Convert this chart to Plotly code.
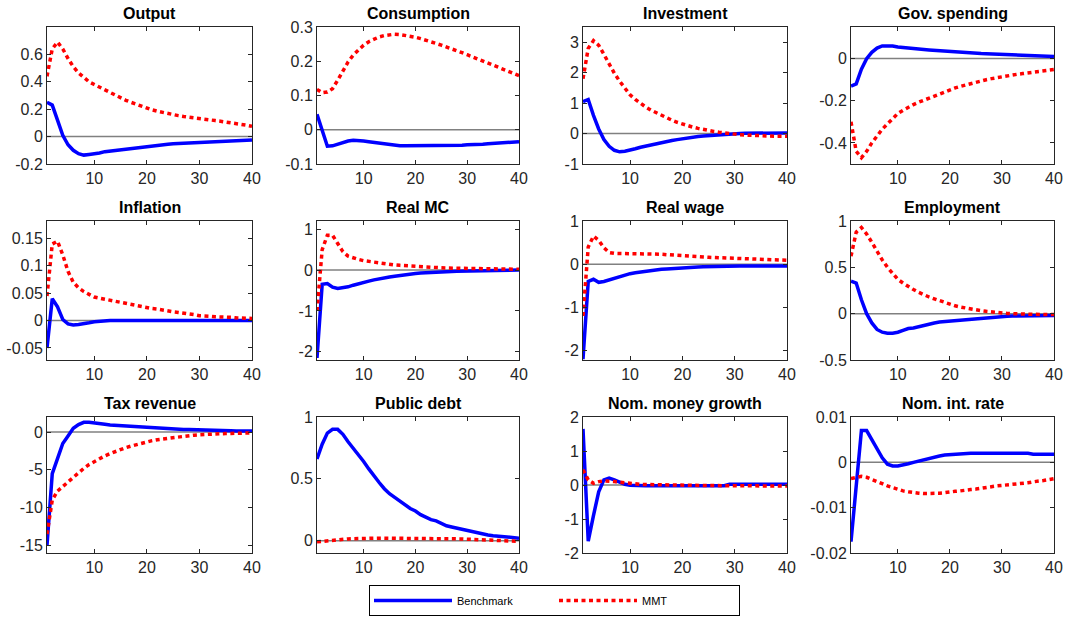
import plotly.graph_objects as go
from plotly.subplots import make_subplots

periods = list(range(1, 41))
x_ticks = [10, 20, 30, 40]
x_tick_labels = ["10", "20", "30", "40"]

titles = ["Output", "Consumption", "Investment", "Gov. spending",
          "Inflation", "Real MC", "Real wage", "Employment",
          "Tax revenue", "Public debt", "Nom. money growth", "Nom. int. rate"]

output_bench = [0.25, 0.23, 0.12, 0.01, -0.06, -0.10, -0.125, -0.135, -0.13, -0.128,
                -0.12, -0.11, -0.105, -0.10, -0.095, -0.09, -0.085, -0.08, -0.075, -0.07,
                -0.066, -0.062, -0.058, -0.055, -0.052, -0.05, -0.048, -0.046, -0.044, -0.042,
                -0.04, -0.038, -0.037, -0.036, -0.034, -0.032, -0.03, -0.028, -0.027, -0.025]
output_mmt = [0.44, 0.64, 0.69, 0.64, 0.57, 0.51, 0.465, 0.43, 0.40, 0.38,
              0.36, 0.34, 0.32, 0.30, 0.28, 0.265, 0.25, 0.235, 0.22, 0.205,
              0.195, 0.185, 0.176, 0.168, 0.16, 0.153, 0.147, 0.141, 0.136, 0.132,
              0.127, 0.122, 0.117, 0.112, 0.107, 0.102, 0.097, 0.09, 0.083, 0.075]

cons_bench = [0.045, 0.0, -0.048, -0.047, -0.042, -0.037, -0.033, -0.031, -0.031, -0.033,
              -0.035, -0.037, -0.039, -0.042, -0.044, -0.046, -0.047, -0.047, -0.047, -0.047,
              -0.047, -0.047, -0.047, -0.047, -0.047, -0.047, -0.047, -0.046, -0.045, -0.044,
              -0.044, -0.043, -0.042, -0.041, -0.04, -0.039, -0.038, -0.037, -0.036, -0.035]
cons_mmt = [0.118, 0.108, 0.11, 0.12, 0.145, 0.172, 0.198, 0.218, 0.234, 0.247,
            0.257, 0.265, 0.271, 0.275, 0.278, 0.279, 0.278, 0.276, 0.273, 0.27,
            0.266, 0.262, 0.257, 0.252, 0.247, 0.242, 0.236, 0.231, 0.225, 0.219,
            0.213, 0.207, 0.201, 0.195, 0.189, 0.183, 0.177, 0.171, 0.165, 0.158]

inv_bench = [1.05, 1.12, 0.6, 0.15, -0.2, -0.42, -0.55, -0.6, -0.58, -0.55,
             -0.5, -0.45, -0.41, -0.37, -0.33, -0.29, -0.26, -0.23, -0.2, -0.17,
             -0.15, -0.12, -0.1, -0.08, -0.065, -0.05, -0.04, -0.03, -0.02, -0.01,
             0.0, 0.01, 0.01, 0.015, 0.015, 0.02, 0.02, 0.02, 0.02, 0.02]
inv_mmt = [1.8, 2.8, 3.05, 2.9, 2.6, 2.28, 1.98, 1.72, 1.48, 1.27,
           1.12, 0.98, 0.87, 0.77, 0.68, 0.59, 0.51, 0.44, 0.37, 0.31,
           0.26, 0.21, 0.17, 0.13, 0.1, 0.07, 0.045, 0.02, 0.0, -0.02,
           -0.04, -0.05, -0.06, -0.07, -0.08, -0.085, -0.09, -0.09, -0.09, -0.09]

gov_bench = [-0.13, -0.12, -0.05, 0.0, 0.03, 0.05, 0.06, 0.06, 0.06, 0.055,
             0.052, 0.05, 0.047, 0.045, 0.043, 0.041, 0.039, 0.037, 0.035, 0.033,
             0.031, 0.03, 0.028, 0.027, 0.025, 0.024, 0.023, 0.022, 0.02, 0.018,
             0.017, 0.016, 0.015, 0.015, 0.014, 0.014, 0.013, 0.012, 0.011, 0.01]
gov_mmt = [-0.3, -0.44, -0.47, -0.44, -0.4, -0.365, -0.335, -0.31, -0.285, -0.26,
           -0.245, -0.23, -0.218, -0.207, -0.197, -0.187, -0.177, -0.167, -0.157, -0.147,
           -0.139, -0.132, -0.125, -0.118, -0.112, -0.106, -0.1, -0.095, -0.09, -0.086,
           -0.082, -0.078, -0.074, -0.071, -0.067, -0.064, -0.061, -0.058, -0.055, -0.052]

infl_bench = [-0.05, 0.04, 0.025, 0.002, -0.006, -0.008, -0.007, -0.006, -0.004, -0.002,
              -0.001, 0.0, 0.0, 0.0, 0.0, 0.0, 0.0, 0.0, 0.0, 0.0,
              0.0, 0.0, 0.0, 0.0, 0.0, 0.0, 0.0, 0.0, 0.0, 0.0,
              0.0, 0.0, 0.0, 0.0, 0.0, 0.0, 0.0, 0.0, 0.0, 0.0]
infl_mmt = [0.045, 0.14, 0.145, 0.12, 0.09, 0.07, 0.06, 0.053, 0.048, 0.043,
            0.041, 0.039, 0.037, 0.035, 0.033, 0.031, 0.029, 0.027, 0.025, 0.024,
            0.022, 0.021, 0.019, 0.018, 0.016, 0.015, 0.014, 0.012, 0.011, 0.009,
            0.009, 0.008, 0.007, 0.007, 0.006, 0.006, 0.005, 0.005, 0.004, 0.004]

mc_bench = [-2.15, -0.35, -0.33, -0.42, -0.45, -0.44, -0.41, -0.37, -0.33, -0.3,
            -0.27, -0.24, -0.21, -0.19, -0.17, -0.15, -0.13, -0.115, -0.1, -0.085,
            -0.075, -0.065, -0.055, -0.05, -0.045, -0.04, -0.035, -0.03, -0.027, -0.024,
            -0.02, -0.018, -0.015, -0.012, -0.01, -0.008, -0.006, -0.004, -0.002, 0.0]
mc_mmt = [-1.0, 0.5, 0.85, 0.85, 0.65, 0.45, 0.34, 0.29, 0.26, 0.23,
          0.21, 0.19, 0.17, 0.155, 0.14, 0.125, 0.115, 0.105, 0.095, 0.085,
          0.078, 0.072, 0.066, 0.06, 0.055, 0.05, 0.046, 0.042, 0.04, 0.038,
          0.035, 0.033, 0.031, 0.03, 0.028, 0.026, 0.025, 0.023, 0.022, 0.02]

wage_bench = [-2.2, -0.4, -0.35, -0.42, -0.4, -0.36, -0.32, -0.28, -0.25, -0.22,
              -0.2, -0.18, -0.16, -0.145, -0.13, -0.12, -0.11, -0.1, -0.09, -0.085,
              -0.075, -0.07, -0.065, -0.06, -0.055, -0.05, -0.048, -0.045, -0.043, -0.042,
              -0.041, -0.04, -0.04, -0.04, -0.04, -0.04, -0.04, -0.04, -0.04, -0.04]
wage_mmt = [-1.2, 0.4, 0.65, 0.55, 0.38, 0.27, 0.25, 0.25, 0.25, 0.25,
            0.25, 0.25, 0.245, 0.24, 0.235, 0.23, 0.22, 0.21, 0.2, 0.19,
            0.18, 0.175, 0.17, 0.165, 0.16, 0.155, 0.15, 0.145, 0.14, 0.13,
            0.12, 0.115, 0.11, 0.105, 0.1, 0.1, 0.095, 0.095, 0.09, 0.09]

emp_bench = [0.35, 0.33, 0.15, 0.0, -0.1, -0.17, -0.2, -0.21, -0.21, -0.2,
             -0.18, -0.16, -0.155, -0.14, -0.13, -0.115, -0.1, -0.09, -0.085, -0.08,
             -0.075, -0.07, -0.065, -0.06, -0.05, -0.045, -0.04, -0.037, -0.034, -0.03,
             -0.028, -0.026, -0.025, -0.024, -0.023, -0.022, -0.021, -0.02, -0.02, -0.02]
emp_mmt = [0.62, 0.88, 0.93, 0.86, 0.77, 0.67, 0.58, 0.5, 0.43, 0.37,
           0.33, 0.29, 0.26, 0.23, 0.2, 0.18, 0.16, 0.14, 0.12, 0.1,
           0.085, 0.072, 0.06, 0.05, 0.04, 0.032, 0.025, 0.018, 0.012, 0.007,
           0.003, 0.0, -0.003, -0.005, -0.007, -0.008, -0.009, -0.01, -0.01, -0.01]

tax_bench = [-15.0, -5.5, -3.5, -1.5, -0.5, 0.5, 1.0, 1.3, 1.3, 1.25,
             1.15, 1.05, 0.95, 0.9, 0.85, 0.8, 0.75, 0.7, 0.65, 0.6,
             0.55, 0.5, 0.45, 0.42, 0.4, 0.38, 0.36, 0.33, 0.3, 0.25,
             0.2, 0.2, 0.2, 0.18, 0.18, 0.17, 0.16, 0.15, 0.15, 0.15]
tax_mmt = [-13.5, -9.0, -7.8, -7.2, -6.5, -5.9, -5.3, -4.8, -4.3, -3.9,
           -3.5, -3.15, -2.85, -2.55, -2.3, -2.05, -1.85, -1.65, -1.45, -1.28,
           -1.13, -1.0, -0.9, -0.8, -0.7, -0.6, -0.52, -0.46, -0.4, -0.35,
           -0.3, -0.27, -0.24, -0.21, -0.19, -0.17, -0.15, -0.13, -0.12, -0.1]

debt_bench = [0.66, 0.78, 0.87, 0.9, 0.9, 0.86, 0.8, 0.75, 0.7, 0.64,
              0.58, 0.52, 0.47, 0.42, 0.38, 0.35, 0.32, 0.29, 0.26, 0.24,
              0.21, 0.19, 0.17, 0.16, 0.14, 0.12, 0.11, 0.1, 0.09, 0.08,
              0.07, 0.06, 0.05, 0.045, 0.04, 0.035, 0.03, 0.03, 0.025, 0.02]
debt_mmt = [-0.01, -0.005, 0.0, 0.005, 0.01, 0.012, 0.014, 0.016, 0.018, 0.02,
            0.02, 0.02, 0.02, 0.02, 0.02, 0.02, 0.02, 0.02, 0.02, 0.02,
            0.02, 0.02, 0.02, 0.02, 0.02, 0.02, 0.018, 0.016, 0.014, 0.012,
            0.01, 0.008, 0.006, 0.004, 0.002, 0.0, -0.002, -0.004, -0.005, -0.006]

money_bench = [1.65, -1.65, -0.9, -0.2, 0.15, 0.2, 0.15, 0.08, 0.02, -0.01,
               -0.02, -0.02, -0.02, -0.02, -0.02, -0.02, -0.02, -0.02, -0.02, -0.02,
               -0.02, -0.02, -0.02, -0.02, -0.02, -0.02, -0.02, -0.02, 0.02, 0.02,
               0.02, 0.02, 0.02, 0.02, 0.02, 0.02, 0.02, 0.02, 0.02, 0.02]
money_mmt = [0.45, 0.15, 0.05, 0.1, 0.12, 0.12, 0.1, 0.08, 0.06, 0.04,
             0.03, 0.02, 0.015, 0.01, 0.008, 0.005, 0.003, 0.0, 0.0, 0.0,
             -0.005, -0.01, -0.01, -0.015, -0.015, -0.02, -0.02, -0.02, -0.02, -0.02,
             -0.02, -0.025, -0.025, -0.025, -0.025, -0.03, -0.03, -0.03, -0.03, -0.03]

rate_bench = [-0.0175, -0.005, 0.007, 0.007, 0.005, 0.003, 0.001, -0.0004, -0.0008, -0.0008,
              -0.0006, -0.0003, 0.0, 0.0003, 0.0006, 0.0009, 0.0012, 0.0014, 0.0016, 0.0017,
              0.0018, 0.0019, 0.002, 0.002, 0.002, 0.002, 0.002, 0.002, 0.002, 0.002,
              0.002, 0.002, 0.002, 0.002, 0.002, 0.0018, 0.0018, 0.0018, 0.0018, 0.0018]
rate_mmt = [-0.0036, -0.0033, -0.0031, -0.0033, -0.0037, -0.0042, -0.0047, -0.0052, -0.0056, -0.006,
            -0.0063, -0.0065, -0.0067, -0.0068, -0.0069, -0.0069, -0.0069, -0.0068, -0.0067, -0.0065,
            -0.0064, -0.0063, -0.0061, -0.006, -0.0059, -0.0057, -0.0056, -0.0054, -0.0052, -0.0051,
            -0.005, -0.0048, -0.0047, -0.0046, -0.0045, -0.0043, -0.0042, -0.004, -0.0038, -0.0036]

bench_series = [output_bench, cons_bench, inv_bench, gov_bench,
                infl_bench, mc_bench, wage_bench, emp_bench,
                tax_bench, debt_bench, money_bench, rate_bench]
mmt_series = [output_mmt, cons_mmt, inv_mmt, gov_mmt,
              infl_mmt, mc_mmt, wage_mmt, emp_mmt,
              tax_mmt, debt_mmt, money_mmt, rate_mmt]

y_ranges = [[-0.2, 0.8], [-0.1, 0.3], [-1, 3.5], [-0.5, 0.15],
            [-0.072, 0.182], [-2.2, 1.2], [-2.22, 1.0], [-0.5, 1.0],
            [-16, 2], [-0.1, 1.0], [-2, 2], [-0.02, 0.01]]
y_ticks = [[-0.2, 0, 0.2, 0.4, 0.6], [-0.1, 0, 0.1, 0.2, 0.3], [-1, 0, 1, 2, 3], [-0.4, -0.2, 0],
           [-0.05, 0, 0.05, 0.1, 0.15], [-2, -1, 0, 1], [-2, -1, 0, 1], [-0.5, 0, 0.5, 1],
           [-15, -10, -5, 0], [0, 0.5, 1], [-2, -1, 0, 1, 2], [-0.02, -0.01, 0, 0.01]]
y_tick_labels = [["-0.2", "0", "0.2", "0.4", "0.6"], ["-0.1", "0", "0.1", "0.2", "0.3"],
                 ["-1", "0", "1", "2", "3"], ["-0.4", "-0.2", "0"],
                 ["-0.05", "0", "0.05", "0.1", "0.15"], ["-2", "-1", "0", "1"],
                 ["-2", "-1", "0", "1"], ["-0.5", "0", "0.5", "1"],
                 ["-15", "-10", "-5", "0"], ["0", "0.5", "1"],
                 ["-2", "-1", "0", "1", "2"], ["-0.02", "-0.01", "0", "0.01"]]

W, H = 1065, 619
col_px = [(47, 252), (317, 519), (583, 787), (851, 1054)]
row_px = [(27, 164), (221, 360), (417, 553)]

FONT = "Liberation Sans, Arial, Helvetica, sans-serif"
BLUE = "#0000FF"
RED = "#FF0000"
TICKCOL = "#262626"


def fx(px):
    return px / W


def fy(py):
    return 1 - py / H


fig = make_subplots(rows=3, cols=4)

for i in range(12):
    r, c = divmod(i, 4)
    idx = i + 1
    sfx = "" if idx == 1 else str(idx)
    fig.add_trace(go.Scatter(x=periods, y=bench_series[i], mode="lines",
                             line=dict(color=BLUE, width=3.5),
                             name="Benchmark", legendgroup="b", showlegend=(i == 0),
                             hoverinfo="skip"), row=r + 1, col=c + 1)
    fig.add_trace(go.Scatter(x=periods, y=mmt_series[i], mode="lines",
                             line=dict(color=RED, width=3.5, dash="4px,3.5px"),
                             name="MMT", legendgroup="m", showlegend=(i == 0),
                             hoverinfo="skip"), row=r + 1, col=c + 1)
    x0, x1 = col_px[c]
    y0, y1 = row_px[r]
    fig.layout["xaxis" + sfx].update(
        domain=[fx(x0), fx(x1)], range=[1, 40], tickvals=x_ticks, ticktext=x_tick_labels,
        ticks="inside", ticklen=4, tickcolor=TICKCOL, showline=True, linecolor=TICKCOL,
        linewidth=1, mirror="ticks", showgrid=False, zeroline=False, automargin=False,
        tickfont=dict(family=FONT, size=16, color=TICKCOL))
    fig.layout["yaxis" + sfx].update(
        domain=[fy(y1), fy(y0)], range=y_ranges[i], tickvals=y_ticks[i],
        ticktext=y_tick_labels[i], ticks="inside", ticklen=4, tickcolor=TICKCOL,
        showline=True, linecolor=TICKCOL, linewidth=1, mirror="ticks",
        showgrid=False, zeroline=False, automargin=False,
        tickfont=dict(family=FONT, size=16, color=TICKCOL))
    fig.add_shape(type="line", xref="x" + sfx + " domain", yref="y" + sfx,
                  x0=0, x1=1, y0=0, y1=0, line=dict(color="#808080", width=1.5),
                  layer="below")
    fig.add_annotation(text="<b>" + titles[i] + "</b>", xref="paper", yref="paper",
                       x=(fx(x0) + fx(x1)) / 2, y=fy(y0 - 3), xanchor="center",
                       yanchor="bottom", showarrow=False,
                       font=dict(family=FONT, size=16, color="black"))

fig.update_layout(
    width=W, height=H, margin=dict(l=0, r=0, t=0, b=0, autoexpand=False),
    paper_bgcolor="white", plot_bgcolor="white",
    font=dict(family=FONT, color="black"),
    showlegend=True,
    legend=dict(orientation="h", x=fx(554.5), xanchor="center", y=fy(585), yanchor="top",
                bordercolor="black", borderwidth=1, bgcolor="white",
                font=dict(family=FONT, size=11, color="black"),
                itemwidth=78, entrywidth=92, entrywidthmode="pixels"),
)

fig.write_html(
    "out.html",
    config={"displayModeBar": False},
    post_script="document.body.style.margin='0';document.body.style.overflow='hidden';",
)
